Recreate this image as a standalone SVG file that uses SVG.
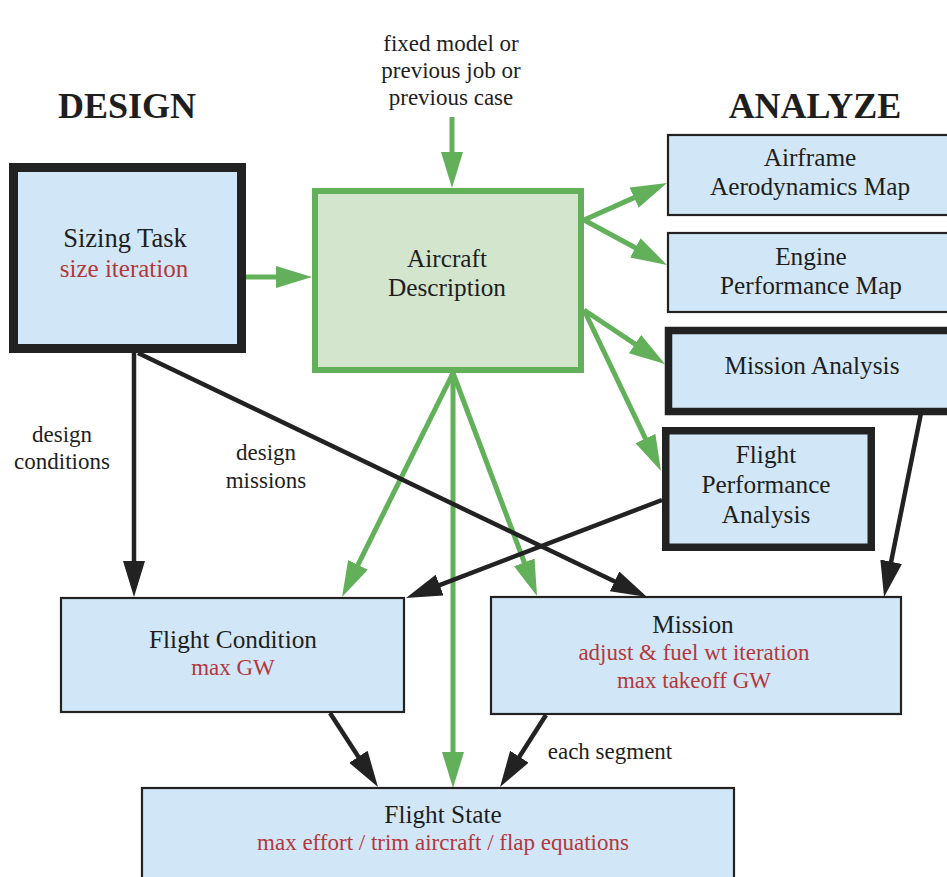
<svg xmlns="http://www.w3.org/2000/svg" width="947" height="877" viewBox="0 0 947 877">
<defs>
<style>
text{font-family:"Liberation Serif","Times New Roman",serif;fill:#1e1e1e;text-anchor:middle}
.t{font-size:25.3px}
.r{font-size:23px;fill:#b3383b}
.l{font-size:23px}
.h{font-size:36px;font-weight:bold}
.box{fill:#d1e7f7;stroke:#222;stroke-width:2.2}
.thick{fill:#d1e7f7;stroke:#222;stroke-width:7.5}
.g{fill:none;stroke:#63b05a;stroke-width:5}
.k{fill:none;stroke:#222;stroke-width:4.5}
</style>
<marker id="ag" markerUnits="userSpaceOnUse" markerWidth="40" markerHeight="24" refX="21" refY="11" orient="auto"><path d="M0,0 L36,11 L0,22 z" fill="#63b05a"/></marker>
<marker id="ak" markerUnits="userSpaceOnUse" markerWidth="40" markerHeight="24" refX="21" refY="11" orient="auto"><path d="M0,0 L36,11 L0,22 z" fill="#222"/></marker>
</defs>
<rect width="947" height="877" fill="#fff"/>
<text class="h" x="127" y="118">DESIGN</text>
<text class="h" x="815" y="118">ANALYZE</text>
<text class="l" x="451" y="51">fixed model or</text>
<text class="l" x="451" y="78">previous job or</text>
<text class="l" x="451" y="105">previous case</text>
<text class="l" x="62" y="442">design</text>
<text class="l" x="62" y="469">conditions</text>
<text class="l" x="266" y="460">design</text>
<text class="l" x="266" y="488">missions</text>
<text class="l" x="610" y="759">each segment</text>
<g id="connectors">
<line class="g" x1="246" y1="277" x2="297" y2="277" marker-end="url(#ag)"/>
<line class="g" x1="452" y1="117" x2="452" y2="173" marker-end="url(#ag)"/>
<line class="g" x1="584" y1="220" x2="653.3" y2="189.1" marker-end="url(#ag)"/>
<line class="g" x1="584" y1="220" x2="653.8" y2="257.8" marker-end="url(#ag)"/>
<line class="g" x1="584" y1="310" x2="652.5" y2="355.7" marker-end="url(#ag)"/>
<line class="g" x1="584" y1="310" x2="654.5" y2="457.5" marker-end="url(#ag)"/>
<line class="g" x1="453" y1="373" x2="348.7" y2="583.6" marker-end="url(#ag)"/>
<line class="g" x1="453" y1="373" x2="453" y2="773" marker-end="url(#ag)"/>
<line class="g" x1="453" y1="373" x2="531.7" y2="582" marker-end="url(#ag)"/>
<line class="k" x1="134" y1="353" x2="134" y2="582" marker-end="url(#ak)"/>
<line class="k" x1="138" y1="353" x2="633.5" y2="590.5" marker-end="url(#ak)"/>
<line class="k" x1="662" y1="500" x2="420" y2="592.6" marker-end="url(#ak)"/>
<line class="k" x1="921" y1="413" x2="887" y2="582.3" marker-end="url(#ak)"/>
<line class="k" x1="330" y1="713" x2="369.8" y2="774.4" marker-end="url(#ak)"/>
<line class="k" x1="546" y1="715" x2="508.1" y2="774.4" marker-end="url(#ak)"/>
</g>
<g id="sizing">
<rect x="13.5" y="167.5" width="228" height="181" fill="#d1e7f7" stroke="#222" stroke-width="9"/>
<text class="t" x="125" y="247" style="font-size:26.5px">Sizing Task</text>
<text class="r" x="124" y="277" style="font-size:25px">size iteration</text>
</g>
<g id="aircraft">
<rect x="315" y="191" width="266" height="179" fill="#d3e5cd" stroke="#63b05a" stroke-width="6"/>
<text class="t" x="447" y="267">Aircraft</text>
<text class="t" x="447" y="296">Description</text>
</g>
<g id="airframe">
<rect class="box" x="668" y="135" width="290" height="80"/>
<text class="t" x="810" y="166">Airframe</text>
<text class="t" x="810" y="195">Aerodynamics Map</text>
</g>
<g id="engine">
<rect class="box" x="668" y="233" width="290" height="79"/>
<text class="t" x="811" y="265">Engine</text>
<text class="t" x="811" y="294">Performance Map</text>
</g>
<g id="mission-analysis">
<rect class="thick" x="668.5" y="330.5" width="290" height="81" stroke-width="7"/>
<text class="t" x="812" y="374">Mission Analysis</text>
</g>
<g id="flight-performance">
<rect class="thick" x="665.75" y="430.75" width="205.5" height="116.5"/>
<text class="t" x="766" y="463">Flight</text>
<text class="t" x="766" y="493">Performance</text>
<text class="t" x="766" y="523">Analysis</text>
</g>
<g id="flight-condition">
<rect class="box" x="61" y="598" width="343" height="114"/>
<text class="t" x="233" y="648">Flight Condition</text>
<text class="r" x="233" y="675">max GW</text>
</g>
<g id="mission">
<rect class="box" x="491" y="597" width="410" height="117"/>
<text class="t" x="693" y="633">Mission</text>
<text class="r" x="694" y="660">adjust &amp; fuel wt iteration</text>
<text class="r" x="694" y="688">max takeoff GW</text>
</g>
<g id="flight-state">
<rect class="box" x="142" y="788" width="592" height="100"/>
<text class="t" x="443" y="823">Flight State</text>
<text class="r" x="443" y="850">max effort / trim aircraft / flap equations</text>
</g>
</svg>
